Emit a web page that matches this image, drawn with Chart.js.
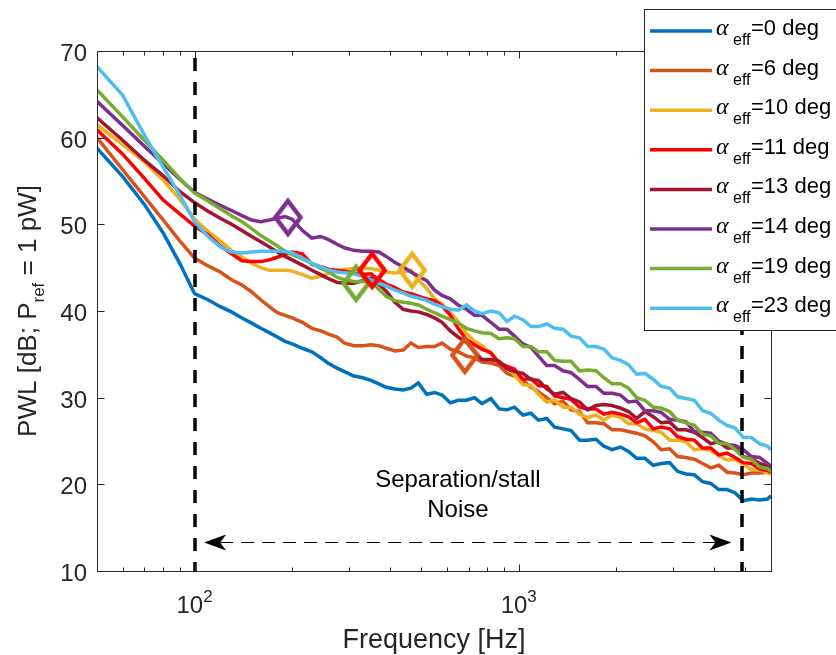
<!DOCTYPE html>
<html>
<head>
<meta charset="utf-8">
<script src="https://cdn.jsdelivr.net/npm/chart.js@4.4.1/dist/chart.umd.min.js"></script>
<style>
  html, body { margin: 0; padding: 0; background: #fff; }
  canvas { display: block; }
</style>
</head>
<body>
<canvas id="pwl-chart" width="836" height="655"></canvas>
<script>
// frequency grid shared by all spectra [Hz]
const FREQ = [50, 60, 70, 80, 90, 100, 110, 120, 130, 140,
  150, 160, 170, 180, 190, 200, 215, 230, 245, 260,
  275, 290, 310, 330, 350, 370, 390, 415, 440, 465,
  490, 520, 550, 580, 615, 650, 690, 730, 770, 820,
  870, 920, 970, 1030, 1090, 1150, 1220, 1290, 1370, 1450,
  1540, 1630, 1730, 1830, 1940, 2060, 2180, 2310, 2450, 2600,
  2750, 2920, 3090, 3280, 3480, 3690, 3910, 4140, 4390, 4650,
  4930, 5220, 5530, 5860, 6000];

// PWL [dB] for each effective angle of attack
const PWL_0 = [58.8, 55.5, 52.3, 49.0, 45.5, 42.0, 41.3, 40.5, 39.9, 39.2,
  38.6, 38.0, 37.5, 37.0, 36.5, 36.2, 35.7, 35.3, 34.6, 33.9,
  33.4, 33.0, 32.5, 32.3, 32.0, 31.6, 31.2, 31.0, 30.9, 31.1,
  31.7, 30.4, 30.6, 30.3, 29.4, 29.7, 29.7, 30.0, 29.3, 29.9,
  28.7, 28.6, 28.9, 28.0, 28.2, 27.4, 27.6, 26.6, 26.4, 26.2,
  25.1, 25.1, 25.2, 24.4, 24.0, 24.3, 23.8, 23.0, 23.0, 22.2,
  22.4, 22.5, 21.5, 21.2, 21.1, 20.3, 20.1, 19.4, 19.4, 19.0,
  18.1, 18.3, 18.2, 18.3, 18.7];
const PWL_6 = [60.0, 56.3, 53.2, 50.5, 48.1, 46.1, 45.2, 44.5, 43.6, 43.0,
  42.2, 41.3, 40.5, 39.8, 39.5, 39.2, 38.7, 38.0, 37.7, 37.3,
  37.0, 36.3, 36.0, 36.0, 36.1, 36.0, 35.7, 35.4, 35.5, 36.3,
  35.8, 35.9, 35.9, 36.3, 35.6, 35.3, 34.8, 34.6, 34.1, 34.0,
  33.7, 32.8, 32.5, 32.0, 31.2, 30.7, 30.0, 29.3, 29.6, 28.6,
  28.4, 27.1, 27.1, 27.0, 26.3, 26.3, 26.1, 25.9, 25.6, 24.9,
  24.0, 24.1, 23.2, 23.1, 22.9, 22.4, 21.9, 22.2, 21.4, 21.3,
  21.1, 21.3, 21.3, 21.4, 21.3];
const PWL_10 = [61.5, 59.2, 57.2, 55.1, 52.9, 50.6, 49.2, 48.1, 47.0, 46.2,
  45.5, 45.0, 44.7, 44.7, 44.7, 44.6, 44.2, 43.8, 44.0, 44.4,
  44.6, 44.8, 44.9, 44.9, 44.9, 44.7, 44.5, 44.4, 44.5, 44.7,
  43.6, 42.6, 41.4, 40.8, 39.8, 38.8, 37.4, 36.5, 36.0, 35.1,
  34.1, 33.6, 32.6, 31.5, 31.4, 30.4, 29.5, 29.7, 28.9, 28.9,
  28.1, 27.7, 28.0, 27.4, 28.0, 27.7, 27.0, 27.0, 26.4, 26.2,
  26.0, 25.1, 25.1, 24.9, 24.0, 24.1, 23.9, 23.3, 22.8, 22.9,
  22.3, 21.7, 21.7, 21.3, 21.2];
const PWL_11 = [60.9, 58.1, 55.3, 52.8, 51.2, 49.8, 48.8, 47.5, 46.6, 45.8,
  45.7, 45.7, 45.9, 46.2, 46.5, 46.8, 46.6, 45.4, 45.1, 44.8,
  44.7, 44.6, 44.4, 44.2, 44.3, 43.6, 43.1, 42.7, 42.2, 42.0,
  41.7, 41.4, 41.2, 40.6, 39.5, 38.0, 36.7, 36.1, 35.6, 35.2,
  34.0, 33.6, 33.3, 32.1, 32.2, 31.4, 31.3, 30.2, 30.0, 29.8,
  28.9, 28.7, 28.7, 28.1, 28.3, 28.1, 27.8, 27.1, 27.5, 26.4,
  26.6, 26.4, 25.5, 25.2, 25.1, 24.2, 24.2, 23.4, 23.6, 23.1,
  22.5, 22.4, 21.8, 21.6, 21.4];
const PWL_13 = [62.3, 59.7, 57.4, 55.6, 53.8, 52.5, 51.5, 50.7, 50.0, 49.3,
  48.6, 48.0, 47.4, 46.8, 46.3, 45.9, 45.3, 44.7, 44.2, 43.7,
  43.3, 43.2, 43.2, 43.5, 43.8, 43.1, 42.3, 41.0, 40.2, 40.0,
  39.9, 39.6, 39.2, 38.7, 37.7, 37.0, 36.4, 35.3, 34.4, 34.4,
  34.2, 33.3, 33.0, 32.8, 32.1, 32.0, 31.0, 30.4, 30.6, 29.9,
  29.5, 28.6, 29.1, 29.2, 29.1, 28.8, 28.4, 27.6, 28.4, 27.8,
  27.1, 27.2, 26.3, 26.3, 26.0, 25.4, 24.7, 24.9, 24.2, 24.2,
  23.2, 23.0, 22.4, 22.1, 21.7];
const PWL_14 = [64.2, 61.4, 59.0, 57.0, 55.2, 53.7, 52.9, 52.2, 51.6, 51.0,
  50.5, 50.3, 50.5, 50.7, 50.9, 50.6, 49.3, 48.4, 48.6, 48.2,
  47.7, 47.3, 47.0, 46.9, 46.9, 46.8, 46.3, 45.6, 45.1, 44.5,
  44.0, 43.5, 42.4, 41.8, 41.4, 40.7, 40.2, 39.5, 39.5, 38.7,
  37.9, 37.9, 37.1, 36.2, 35.8, 34.8, 33.7, 33.7, 33.1, 32.9,
  32.1, 31.3, 31.3, 30.5, 30.5, 30.3, 29.5, 29.6, 28.5, 28.5,
  28.3, 27.5, 27.4, 27.2, 26.1, 26.0, 25.9, 25.0, 24.6, 24.5,
  24.0, 23.2, 23.1, 22.4, 22.1];
const PWL_19 = [65.5, 62.4, 59.7, 57.4, 55.3, 53.6, 52.7, 51.8, 51.0, 50.3,
  49.5, 48.7, 48.1, 47.5, 46.9, 46.5, 46.0, 45.5, 44.9, 44.5,
  43.9, 43.6, 43.4, 43.4, 43.4, 42.5, 41.7, 41.2, 41.0, 40.9,
  40.7, 40.2, 39.8, 39.4, 39.0, 38.6, 38.0, 37.7, 37.5, 37.4,
  36.8, 36.9, 36.8, 35.9, 35.9, 35.3, 35.3, 34.3, 34.2, 34.2,
  33.1, 33.2, 33.1, 32.3, 31.6, 31.6, 31.1, 30.0, 29.7, 28.9,
  28.8, 28.4, 27.4, 27.1, 26.8, 25.8, 25.6, 24.7, 24.7, 24.0,
  23.1, 22.9, 22.0, 21.8, 21.5];
const PWL_23 = [68.2, 64.9, 60.3, 56.6, 53.4, 50.3, 48.6, 47.4, 46.8, 46.7,
  46.8, 46.9, 46.9, 46.9, 46.9, 46.7, 46.1, 45.5, 45.1, 44.7,
  44.5, 44.4, 44.3, 44.0, 43.6, 43.2, 42.9, 42.4, 42.1, 41.7,
  41.5, 41.2, 40.8, 40.5, 40.2, 40.1, 40.7, 40.0, 39.7, 40.0,
  39.8, 38.8, 39.4, 39.0, 38.2, 38.2, 38.5, 38.0, 37.9, 37.1,
  36.9, 35.9, 35.9, 35.6, 34.6, 34.3, 33.8, 32.7, 32.8, 32.1,
  31.3, 31.1, 30.1, 29.9, 29.7, 28.5, 28.2, 27.4, 26.8, 26.5,
  25.4, 25.4, 24.7, 24.4, 24.0];

const SERIES = [PWL_0, PWL_6, PWL_10, PWL_11, PWL_13, PWL_14, PWL_19, PWL_23];
const ANGLES = ["0", "6", "10", "11", "13", "14", "19", "23"];
const COLORS = ["#0072BD", "#D95319", "#EDB120", "#FF0000", "#A2142F", "#7E2F8E", "#77AC30", "#4DBEEE"];

// separation onset markers (diamonds)
const ONSET_FREQ = [682, 469, 353, 194, 315];
const ONSET_PWL = [34.9, 44.7, 44.7, 50.8, 43.2];
const ONSET_COLORS = ["#D95319", "#EDB120", "#FF0000", "#7E2F8E", "#77AC30"];

const Y_TICKS = [10, 20, 30, 40, 50, 60, 70];
const X_MAJOR = [100, 1000];
const X_MAJOR_EXP = ["2", "3"];
const X_MINOR = [60, 70, 80, 90, 200, 300, 400, 500, 600, 700, 800, 900, 2000, 3000, 4000, 5000];

const BAND_FREQ = [100, 4900];
const BAND_TOP = 69.2;
const ARROW_FREQ = [107, 4530];
const ARROW_PWL = 13.4;

const FONT = '"Liberation Sans", Arial, Helvetica, sans-serif';
const AXIS_COLOR = "#262626";

function diamondImage(color) {
  const c = document.createElement("canvas");
  c.width = 38;
  c.height = 44;
  const g = c.getContext("2d");
  g.strokeStyle = color;
  g.lineWidth = 4.5;
  g.lineJoin = "miter";
  g.beginPath();
  g.moveTo(19, 5.5);
  g.lineTo(31.5, 22);
  g.lineTo(19, 38.5);
  g.lineTo(6.5, 22);
  g.closePath();
  g.stroke();
  return c;
}

const lineSets = SERIES.map((vals, i) => ({
  label: ANGLES[i],
  data: FREQ.map((f, k) => ({ x: f, y: vals[k] })),
  borderColor: COLORS[i],
  backgroundColor: COLORS[i],
  borderWidth: 3.5,
  pointRadius: 0,
  tension: 0,
  fill: false,
  order: 20 - i,
}));

const markerSets = ONSET_FREQ.map((f, i) => ({
  label: "onset",
  data: [{ x: f, y: ONSET_PWL[i] }],
  showLine: false,
  pointStyle: diamondImage(ONSET_COLORS[i]),
  pointRadius: 12,
  borderColor: ONSET_COLORS[i],
  order: 1,
}));

function drawArrowHead(ctx, tipX, tipY, dir) {
  ctx.beginPath();
  ctx.moveTo(tipX, tipY);
  ctx.lineTo(tipX + dir * 22, tipY - 8);
  ctx.lineTo(tipX + dir * 16, tipY);
  ctx.lineTo(tipX + dir * 22, tipY + 8);
  ctx.closePath();
  ctx.fill();
}

const decorations = {
  id: "decorations",
  afterDatasetsDraw(chart) {
    const { ctx, scales: { x, y } } = chart;
    ctx.save();

    // separation/stall band limits
    ctx.strokeStyle = "#000";
    ctx.lineWidth = 3.5;
    ctx.setLineDash([13, 11]);
    BAND_FREQ.forEach((f) => {
      const px = Math.round(x.getPixelForValue(f));
      ctx.beginPath();
      ctx.moveTo(px, y.getPixelForValue(BAND_TOP));
      ctx.lineTo(px, y.getPixelForValue(10));
      ctx.stroke();
    });

    // double arrow
    const ay = Math.round(y.getPixelForValue(ARROW_PWL)) + 0.5;
    const ax0 = x.getPixelForValue(ARROW_FREQ[0]);
    const ax1 = x.getPixelForValue(ARROW_FREQ[1]);
    ctx.lineWidth = 1.2;
    ctx.setLineDash([13, 8]);
    ctx.beginPath();
    ctx.moveTo(ax0 + 16, ay);
    ctx.lineTo(ax1 - 16, ay);
    ctx.stroke();
    ctx.setLineDash([]);
    ctx.fillStyle = "#000";
    drawArrowHead(ctx, ax0, ay, 1);
    drawArrowHead(ctx, ax1, ay, -1);

    // annotation
    ctx.font = `24px ${FONT}`;
    ctx.textAlign = "center";
    ctx.textBaseline = "alphabetic";
    const tx = x.getPixelForValue(649);
    ctx.fillText("Separation/stall", tx, y.getPixelForValue(19.7));
    ctx.fillText("Noise", tx, y.getPixelForValue(16.2));
    ctx.restore();
  },
  afterDraw(chart) {
    const { ctx, chartArea: a, scales: { x, y } } = chart;
    ctx.save();

    // axes box and ticks
    ctx.strokeStyle = AXIS_COLOR;
    ctx.lineWidth = 1;
    ctx.strokeRect(Math.round(a.left) + 0.5, Math.round(a.top) + 0.5,
      Math.round(a.right - a.left), Math.round(a.bottom - a.top));
    const L = Math.round(a.left) + 0.5;
    const R = Math.round(a.right) + 0.5;
    const T = Math.round(a.top) + 0.5;
    const B = Math.round(a.bottom) + 0.5;
    ctx.beginPath();
    Y_TICKS.forEach((v) => {
      const py = Math.round(y.getPixelForValue(v)) + 0.5;
      ctx.moveTo(L, py); ctx.lineTo(L + 7, py);
      ctx.moveTo(R, py); ctx.lineTo(R - 7, py);
    });
    X_MAJOR.forEach((f) => {
      const px = Math.round(x.getPixelForValue(f)) + 0.5;
      ctx.moveTo(px, B); ctx.lineTo(px, B - 7);
      ctx.moveTo(px, T); ctx.lineTo(px, T + 7);
    });
    X_MINOR.forEach((f) => {
      const px = Math.round(x.getPixelForValue(f)) + 0.5;
      ctx.moveTo(px, B); ctx.lineTo(px, B - 4);
      ctx.moveTo(px, T); ctx.lineTo(px, T + 4);
    });
    ctx.stroke();

    // tick labels
    ctx.fillStyle = AXIS_COLOR;
    ctx.font = `24px ${FONT}`;
    ctx.textAlign = "right";
    ctx.textBaseline = "alphabetic";
    Y_TICKS.forEach((v) => {
      ctx.fillText(String(v), a.left - 10, y.getPixelForValue(v) + 10);
    });
    X_MAJOR.forEach((f, i) => {
      ctx.font = `24px ${FONT}`;
      const wBase = ctx.measureText("10").width;
      ctx.font = `17px ${FONT}`;
      const wExp = ctx.measureText(X_MAJOR_EXP[i]).width;
      const left = x.getPixelForValue(f) - (wBase + wExp) / 2;
      ctx.textAlign = "left";
      ctx.font = `24px ${FONT}`;
      ctx.fillText("10", left, a.bottom + 42);
      ctx.font = `17px ${FONT}`;
      ctx.fillText(X_MAJOR_EXP[i], left + wBase, a.bottom + 31);
    });

    // axis titles
    ctx.font = `27px ${FONT}`;
    ctx.textAlign = "center";
    ctx.fillText("Frequency [Hz]", (a.left + a.right) / 2, 648);

    ctx.save();
    ctx.translate(36, (a.top + a.bottom) / 2);
    ctx.rotate(-Math.PI / 2);
    ctx.textAlign = "left";
    const p1 = "PWL [dB; P", sub = "ref", p2 = " = 1 pW]";
    ctx.font = `26px ${FONT}`;
    const w1 = ctx.measureText(p1).width, w2 = ctx.measureText(p2).width;
    ctx.font = `17px ${FONT}`;
    const ws = ctx.measureText(sub).width;
    let cx = -(w1 + ws + w2) / 2;
    ctx.font = `26px ${FONT}`;
    ctx.fillText(p1, cx, 0);
    cx += w1;
    ctx.font = `17px ${FONT}`;
    ctx.fillText(sub, cx, 8);
    cx += ws;
    ctx.font = `26px ${FONT}`;
    ctx.fillText(p2, cx, 0);
    ctx.restore();

    // legend
    ctx.fillStyle = "#fff";
    ctx.fillRect(644.5, 9.5, 200, 321);
    ctx.strokeStyle = AXIS_COLOR;
    ctx.lineWidth = 1;
    ctx.strokeRect(644.5, 9.5, 200, 321);
    ctx.textAlign = "left";
    ANGLES.forEach((ang, i) => {
      const ry = 31 + i * 39.6;
      ctx.strokeStyle = COLORS[i];
      ctx.lineWidth = 3.5;
      ctx.beginPath();
      ctx.moveTo(650, ry);
      ctx.lineTo(712, ry);
      ctx.stroke();
      ctx.fillStyle = "#000";
      ctx.font = `italic 24px "Liberation Serif", "Times New Roman", serif`;
      ctx.fillText("\u03b1", 716, ry + 4);
      ctx.font = `16px ${FONT}`;
      ctx.fillText("eff", 733, ry + 14);
      ctx.font = `22px ${FONT}`;
      ctx.fillText(`=${ang} deg`, 751, ry + 4);
    });
    ctx.restore();
  },
};

new Chart(document.getElementById("pwl-chart"), {
  type: "line",
  data: { datasets: [...lineSets, ...markerSets] },
  options: {
    responsive: false,
    animation: false,
    devicePixelRatio: 1,
    layout: { padding: { left: 97, right: 65, top: 51, bottom: 84 } },
    scales: {
      x: { type: "logarithmic", min: 50, max: 6000, display: false },
      y: { type: "linear", min: 10, max: 70, display: false },
    },
    plugins: {
      legend: { display: false },
      tooltip: { enabled: false },
    },
  },
  plugins: [decorations],
});
</script>
</body>
</html>
